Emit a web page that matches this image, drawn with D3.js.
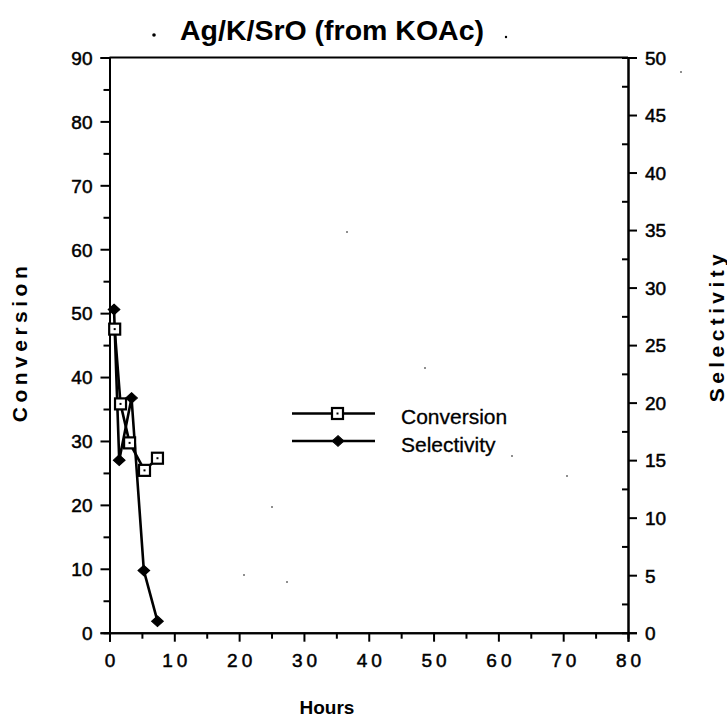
<!DOCTYPE html>
<html>
<head>
<meta charset="utf-8">
<script src="https://cdn.jsdelivr.net/npm/d3@7"></script>
<style>
  body { margin: 0; background: #fff; }
  svg { display: block; }
  text { font-family: Arial, "Liberation Sans", Helvetica, sans-serif; fill: #000; }
</style>
</head>
<body>
<svg id="chart" width="727" height="717"></svg>
<script>
// Ag/K/SrO catalyst prepared from KOAc: conversion and selectivity vs. time on stream
const conversionHours = [0.8, 1.7, 3.1, 5.4, 7.4];
const conversionValues = [47.5, 35.8, 29.7, 25.4, 27.3];
const selectivityHours = [0.7, 1.5, 3.4, 5.3, 7.4];
const selectivityValues = [28.1, 15.0, 20.4, 5.4, 1.0];

const hourTicks = [0, 10, 20, 30, 40, 50, 60, 70, 80];
const conversionTicks = [0, 10, 20, 30, 40, 50, 60, 70, 80, 90];
const selectivityTicks = [0, 5, 10, 15, 20, 25, 30, 35, 40, 45, 50];
const seriesNames = ["Conversion", "Selectivity"];

const svg = d3.select("#chart");
const plotLeft = 109.5, plotRight = 628, plotTop = 57.5, plotBottom = 632.7;

const x = d3.scaleLinear().domain([0, 80]).range([plotLeft, plotRight]);
const yL = d3.scaleLinear().domain([0, 90]).range([plotBottom, plotTop]);
const yR = d3.scaleLinear().domain([0, 50]).range([plotBottom, plotTop]);

// frame top edge
svg.append("line")
  .attr("x1", plotLeft).attr("x2", plotRight).attr("y1", plotTop).attr("y2", plotTop)
  .attr("stroke", "#000").attr("stroke-width", 2);

// left axis: major ticks labelled, minor ticks at the midpoints
const gL = svg.append("g").attr("transform", `translate(${plotLeft},0)`);
gL.call(d3.axisLeft(yL).tickValues(conversionTicks).tickSize(9).tickPadding(8));
gL.append("g").call(d3.axisLeft(yL).tickValues(d3.range(5, 90, 10)).tickSize(6).tickFormat(""));

// right axis
const gR = svg.append("g").attr("transform", `translate(${plotRight},0)`);
gR.call(d3.axisRight(yR).tickValues(selectivityTicks).tickSize(9).tickPadding(8));
gR.append("g").call(d3.axisLeft(yR).tickValues(d3.range(2.5, 50, 5)).tickSize(6).tickFormat(""));

// bottom axis
const gB = svg.append("g").attr("transform", `translate(0,${plotBottom})`);
gB.call(d3.axisBottom(x).tickValues(hourTicks).tickSize(9).tickPadding(12));
gB.append("g").call(d3.axisBottom(x).tickValues(d3.range(5, 80, 10)).tickSize(6).tickFormat(""));
gB.selectAll(".tick text").attr("letter-spacing", 4).attr("dx", 2);

svg.selectAll(".tick text")
  .attr("font-size", 19).attr("stroke", "#000").attr("stroke-width", 0.5);
gL.selectAll(".tick text").attr("dy", "0.36em");
gR.selectAll(".tick text").attr("dy", "0.36em");
svg.selectAll(".domain").attr("stroke", "#000").attr("stroke-width", 2);
svg.selectAll(".tick line").attr("stroke", "#000").attr("stroke-width", 2);

// series lines
const convPts = conversionHours.map((h, i) => [x(h), yL(conversionValues[i])]);
const selPts = selectivityHours.map((h, i) => [x(h), yR(selectivityValues[i])]);
const line = d3.line();

svg.append("path").attr("d", line(selPts))
  .attr("fill", "none").attr("stroke", "#000").attr("stroke-width", 2.6).attr("stroke-linejoin", "round");
svg.append("path").attr("d", line(convPts))
  .attr("fill", "none").attr("stroke", "#000").attr("stroke-width", 2.6).attr("stroke-linejoin", "round");

const diamond = d3.symbol().type(d3.symbolDiamond2).size(72);
function drawDiamond(g, px, py) {
  g.append("path").attr("d", diamond()).attr("transform", `translate(${px},${py}) scale(1.1,1)`)
    .attr("fill", "#000").attr("stroke", "#000").attr("stroke-width", 1);
}
function drawSquare(g, px, py) {
  g.append("rect").attr("x", px - 5.5).attr("y", py - 5.5).attr("width", 11).attr("height", 11)
    .attr("fill", "#fff").attr("stroke", "#000").attr("stroke-width", 2.2);
  g.append("rect").attr("x", px - 1).attr("y", py - 1).attr("width", 2).attr("height", 2).attr("fill", "#000");
}
const marks = svg.append("g");
selPts.forEach(p => drawDiamond(marks, p[0], p[1]));
convPts.forEach(p => drawSquare(marks, p[0], p[1]));

// legend
const leg = svg.append("g");
const legRows = [413.5, 441];
legRows.forEach((ly, i) => {
  leg.append("line").attr("x1", 292).attr("x2", 375).attr("y1", ly).attr("y2", ly)
    .attr("stroke", "#000").attr("stroke-width", 2.6);
  if (i === 0) drawSquare(leg, 337.5, ly); else drawDiamond(leg, 338, ly);
  leg.append("text").attr("x", 401).attr("y", ly + 10.5)
    .attr("font-size", 21).attr("stroke", "#000").attr("stroke-width", 0.3)
    .text(seriesNames[i]);
});

// titles
svg.append("text").attr("x", 332).attr("y", 40).attr("text-anchor", "middle")
  .attr("font-size", 28.5).attr("font-weight", "bold").text("Ag/K/SrO (from KOAc)");
svg.append("text").attr("x", 327).attr("y", 714).attr("text-anchor", "middle")
  .attr("font-size", 19).attr("font-weight", "bold").text("Hours");
svg.append("text").attr("transform", "translate(27,342) rotate(-90)").attr("text-anchor", "middle")
  .attr("font-size", 21).attr("font-weight", "bold").attr("letter-spacing", 4.5).text("Conversion");
svg.append("text").attr("transform", "translate(724,326) rotate(-90)").attr("text-anchor", "middle")
  .attr("font-size", 21).attr("font-weight", "bold").attr("letter-spacing", 4.4).text("Selectivity");

// small print specks
const specks = [[154, 35, 1.8], [506, 37, 1.2], [347, 232, 0.8], [425, 368, 0.8], [272, 507, 0.8], [287, 582, 0.8], [512, 456, 0.8], [567, 476, 0.8], [681, 72, 0.8], [244, 575, 0.8]];
svg.append("g").selectAll("circle").data(specks).join("circle")
  .attr("cx", d => d[0]).attr("cy", d => d[1]).attr("r", d => d[2]).attr("fill", "#000");
</script>
</body>
</html>
